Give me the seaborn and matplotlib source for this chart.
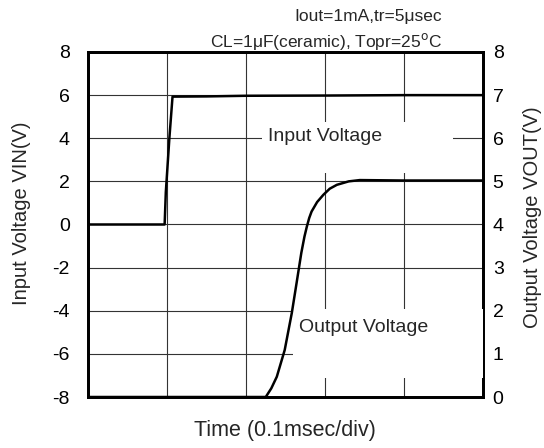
import matplotlib
matplotlib.use("Agg")
import matplotlib.pyplot as plt
import seaborn as sns
import pandas as pd
from matplotlib.patches import Rectangle

# Data (time in divisions of 0.1 msec)
vin_t = [0.0, 0.97, 0.985, 1.03, 1.07, 1.5, 2.0, 3.0, 4.0, 5.0]
vin_v = [0.0, 0.0, 1.5, 4.0, 5.93, 5.94, 5.97, 5.98, 6.0, 6.0]
vout_t = [0.0, 2.25, 2.32, 2.39, 2.49, 2.58, 2.64, 2.70, 2.74, 2.77, 2.80, 2.83, 2.90, 2.98, 3.06, 3.15, 3.30, 3.44, 4.0, 5.0]
vout_v = [0.0, 0.0, 0.20, 0.47, 1.09, 1.95, 2.64, 3.34, 3.72, 3.95, 4.15, 4.30, 4.52, 4.69, 4.83, 4.92, 5.0, 5.03, 5.02, 5.02]
left_ticks = [-8, -6, -4, -2, 0, 2, 4, 6, 8]
right_ticks = [0, 1, 2, 3, 4, 5, 6, 7, 8]

sns.set_theme(style="white")
plt.rcParams['font.family'] = ['Liberation Sans', 'DejaVu Sans']

fig = plt.figure(figsize=(5.44, 4.48), dpi=100)
ax = fig.add_axes([88/544, 51/448, 395/544, 345/448])
ax2 = ax.twinx()

ax.set_xlim(0, 5)
ax.set_ylim(-8, 8)
ax2.set_ylim(0, 8)
ax.set_xticks([1, 2, 3, 4])
ax.set_xticklabels([])
ax.set_yticks(left_ticks)
ax.set_yticklabels([str(t) for t in left_ticks])
ax2.set_yticks(right_ticks)
ax2.set_yticklabels([str(t) for t in right_ticks])
ax.grid(True, color="#333333", linewidth=0.8)
ax.tick_params(length=0, labelsize=14, colors="black", pad=13)
ax2.tick_params(length=0, labelsize=14, colors="black", pad=7)
for a in (ax, ax2):
    for s in a.spines.values():
        s.set_color("black")
        s.set_linewidth(2)

sns.lineplot(data=pd.DataFrame({"t": vin_t, "v": vin_v}), x="t", y="v", ax=ax,
             color="black", linewidth=1.8, zorder=5, sort=False)
sns.lineplot(data=pd.DataFrame({"t": vout_t, "v": vout_v}), x="t", y="v", ax=ax2,
             color="black", linewidth=1.8, zorder=5, sort=False)

# white label boxes
ax.add_patch(Rectangle((2.20, 2.39), 2.42, 2.36, facecolor="white", edgecolor="none", zorder=1.5))
ax2.add_patch(Rectangle((2.595, 0.45), 2.405, 1.58, facecolor="white", edgecolor="none", zorder=3, clip_on=False))
ax.text(2.28, 4.1, "Input Voltage", fontsize=14, va="center", ha="left", zorder=6)
ax2.text(2.67, 1.62, "Output Voltage", fontsize=14, va="center", ha="left", zorder=6)

ax.set_xlabel("")
ax.set_ylabel("")
ax2.set_ylabel("")
fig.text(285/544, 1 - 430/448, "Time (0.1msec/div)", ha="center", va="center", fontsize=15.5)
fig.text(22/544, 1 - 213/448, "Input Voltage VIN(V)", ha="center", va="center", fontsize=14.5, rotation=90)
fig.text(532/544, 1 - 217/448, "Output Voltage VOUT(V)", ha="center", va="center", fontsize=14.5, rotation=90)

fig.text(442/544, 1 - 17/448, "Iout=1mA,tr=5\u03bcsec", ha="right", va="center", fontsize=12.5)
fig.text(442/544, 1 - 41/448, "CL=1\u03bcF(ceramic), Topr=25$^{\\rm o}$C", ha="right", va="center", fontsize=12.5)

fig.savefig("out.png", dpi=100)
